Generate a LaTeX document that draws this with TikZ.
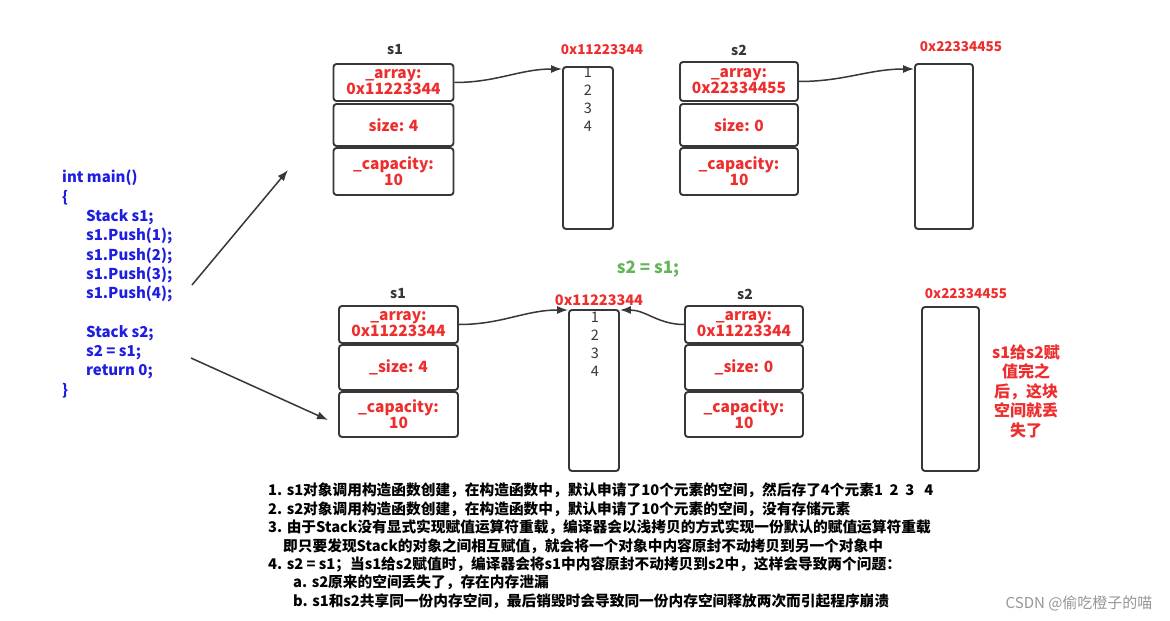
\documentclass[tikz,border=0pt]{standalone}
\usepackage{fontspec}
\setmainfont{Noto Sans CJK SC}
\usetikzlibrary{arrows.meta}
\definecolor{myred}{RGB}{238,45,45}
\definecolor{myblue}{RGB}{30,30,225}
\definecolor{mygreen}{RGB}{100,180,90}
\definecolor{boxgray}{RGB}{55,55,55}
\definecolor{wmgray}{RGB}{150,150,150}
\begin{document}
\begin{tikzpicture}[x=1pt,y=-1pt,
  field/.style={draw=boxgray, line width=1.9pt, rounded corners=3pt, minimum width=120pt,
    inner sep=0pt, font=\bfseries\fontsize{15.5}{16}\selectfont, text=myred, align=center},
  mem/.style={draw=boxgray, line width=1.9pt, rounded corners=3pt, inner sep=0pt},
  lbl/.style={font=\bfseries\fontsize{14}{16}\selectfont, text=boxgray},
  addr/.style={font=\bfseries\fontsize{13.5}{16}\selectfont, text=myred},
  nums/.style={font=\fontsize{14.5}{18}\selectfont, text=boxgray, align=center, inner sep=0pt},
  link/.style={draw=boxgray, line width=1.5pt, -{Latex[length=11pt,width=8pt]}},
  code/.style={font=\bfseries\fontsize{15}{19.3}\selectfont, text=myblue, align=left, inner sep=0pt},
]
\useasboundingbox (0,0) rectangle (1170,621);
\fill[white] (0,0) rectangle (1170,621);

% ---------- code ----------
\node[code, anchor=north west] (code) at (62,170) {int main()\\
{\{}\\
\hspace*{24pt}Stack s1;\\
\hspace*{24pt}s1.Push(1);\\
\hspace*{24pt}s1.Push(2);\\
\hspace*{24pt}s1.Push(3);\\
\hspace*{24pt}s1.Push(4);\\[19.3pt]
\hspace*{24pt}Stack s2;\\
\hspace*{24pt}s2 = s1;\\
\hspace*{24pt}return 0;\\
{\}}};
\coordinate (c1s) at (192,285);
\coordinate (c1e) at (288,170);
\coordinate (c2s) at (191,358);
\coordinate (c2e) at (328,420);
\draw[link] (c1s) -- (c1e);
\draw[link] (c2s) -- (c2e);

% ---------- top: s1 ----------
\node[lbl] (ts1l) at (395,50) {s1};
\node[field, minimum height=37pt] (ts1a) at (393.5,82.5) {\_array:\\0x11223344};
\node[field, minimum height=42pt] (ts1s) at (393.5,125) {size: 4};
\node[field, minimum height=47pt] (ts1c) at (393.5,171.5) {\_capacity:\\10};
\node[addr] (tm1l) at (602,50) {0x11223344};
\node[mem, minimum width=50pt, minimum height=162pt] (tm1) at (588,148) {};
\node[nums, anchor=north] (tm1n) at (588,67) {1\\2\\3\\4};
\draw[link] (ts1a.east) to[out=0,in=180] (tm1.north west |- 0,69);

% ---------- top: s2 ----------
\node[lbl] (ts2l) at (739,50) {s2};
\node[field, minimum width=118pt, minimum height=39pt] (ts2a) at (739,81.5) {\_array:\\0x22334455};
\node[field, minimum width=118pt, minimum height=42pt] (ts2s) at (739,125) {size: 0};
\node[field, minimum width=118pt, minimum height=47pt] (ts2c) at (739,171.5) {\_capacity:\\10};
\node[addr] (tm2l) at (961,47) {0x22334455};
\node[mem, minimum width=58pt, minimum height=165pt] (tm2) at (944,146.5) {};
\draw[link] (ts2a.east) to[out=0,in=180] (tm2.north west |- 0,69);

% ---------- middle ----------
\node[font=\bfseries\fontsize{17}{19}\selectfont, text=mygreen] (assign) at (648,269) {s2 = s1;};

% ---------- bottom: s1 ----------
\node[lbl] (bs1l) at (398,294) {s1};
\node[field, minimum width=119pt, minimum height=37pt] (bs1a) at (398.5,324.5) {\_array:\\0x11223344};
\node[field, minimum width=119pt, minimum height=45pt] (bs1s) at (398.5,367.5) {\_size: 4};
\node[field, minimum width=119pt, minimum height=45pt] (bs1c) at (398.5,414.5) {\_capacity:\\10};
\node[addr, font=\bfseries\fontsize{14.5}{16}\selectfont] (bm1l) at (599,300) {0x11223344};
\node[mem, minimum width=50pt, minimum height=161pt] (bm1) at (594,390.5) {};
\node[nums, anchor=north] (bm1n) at (595,312) {1\\2\\3\\4};
\draw[link] (bs1a.east) to[out=0,in=180] (bm1.north west |- 0,310);

% ---------- bottom: s2 ----------
\node[lbl] (bs2l) at (745,294) {s2};
\node[field, minimum width=118pt, minimum height=37pt] (bs2a) at (744,324.5) {\_array:\\0x11223344};
\node[field, minimum width=118pt, minimum height=45pt] (bs2s) at (744,367.5) {\_size: 0};
\node[field, minimum width=118pt, minimum height=45pt] (bs2c) at (744,414.5) {\_capacity:\\10};
\node[addr] (bm2l) at (966,294) {0x22334455};
\node[mem, minimum width=57pt, minimum height=164pt] (bm2) at (950.5,389) {};
\draw[link] (bs2a.west) to[out=180,in=0] (bm1.north east |- 0,310);

\node[font=\bfseries\fontsize{16}{19.5}\selectfont, text=myred, align=center] (lost) at (1026,391)
  {s1给s2赋\\值完之\\后，这块\\空间就丢\\失了};

% ---------- notes ----------
\node[font=\bfseries\fontsize{14.7}{18.4}\selectfont, text=black, align=left, anchor=north west, inner sep=0pt] (notes) at (268,483)
{1. s1对象调用构造函数创建，在构造函数中，默认申请了10个元素的空间，然后存了4个元素1\ \ 2\ \ 3\ \ \ 4\\
2. s2对象调用构造函数创建，在构造函数中，默认申请了10个元素的空间，没有存储元素\\
3. 由于Stack没有显式实现赋值运算符重载，编译器会以浅拷贝的方式实现一份默认的赋值运算符重载\\
\hspace*{15pt}即只要发现Stack的对象之间相互赋值，就会将一个对象中内容原封不动拷贝到另一个对象中\\
4. s2 = s1；当s1给s2赋值时，编译器会将s1中内容原封不动拷贝到s2中，这样会导致两个问题：\\
\hspace*{25pt}a. s2原来的空间丢失了，存在内存泄漏\\
\hspace*{25pt}b. s1和s2共享同一份内存空间，最后销毁时会导致同一份内存空间释放两次而引起程序崩溃};

\node[font=\fontsize{15}{17}\selectfont, text=wmgray, anchor=east] (wm) at (1156,603) {CSDN @偷吃橙子的喵};
\end{tikzpicture}
\end{document}
